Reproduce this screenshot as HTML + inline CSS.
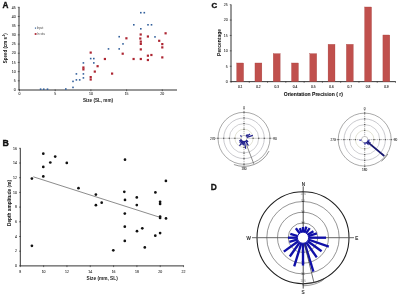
<!DOCTYPE html>
<html><head><meta charset="utf-8"><style>
html,body{margin:0;padding:0;background:#fff;}
svg{display:block;font-family:"Liberation Sans",sans-serif;will-change:transform;filter:blur(0.3px);}
</style></head><body>
<svg width="400" height="297" viewBox="0 0 400 297" font-family="Liberation Sans, sans-serif">
<rect width="400" height="297" fill="#fff"/>
<text x="5.40" y="7.70" font-size="8.2" text-anchor="middle" font-weight="bold" fill="#111" stroke="#111" stroke-width="0.35">A</text>
<line x1="19.00" y1="7.29" x2="19.00" y2="90.00" stroke="#333" stroke-width="1.0" />
<line x1="19.00" y1="90.00" x2="177.00" y2="90.00" stroke="#333" stroke-width="1.0" />
<line x1="17.80" y1="90.00" x2="19.60" y2="90.00" stroke="#333" stroke-width="0.7" />
<text x="15.60" y="91.25" font-size="3.5" text-anchor="end" font-weight="normal" fill="#222" stroke="#222" stroke-width="0.05">0</text>
<line x1="17.80" y1="80.81" x2="19.60" y2="80.81" stroke="#333" stroke-width="0.7" />
<text x="15.60" y="82.06" font-size="3.5" text-anchor="end" font-weight="normal" fill="#222" stroke="#222" stroke-width="0.05">5</text>
<line x1="17.80" y1="71.62" x2="19.60" y2="71.62" stroke="#333" stroke-width="0.7" />
<text x="15.60" y="72.87" font-size="3.5" text-anchor="end" font-weight="normal" fill="#222" stroke="#222" stroke-width="0.05">10</text>
<line x1="17.80" y1="62.43" x2="19.60" y2="62.43" stroke="#333" stroke-width="0.7" />
<text x="15.60" y="63.68" font-size="3.5" text-anchor="end" font-weight="normal" fill="#222" stroke="#222" stroke-width="0.05">15</text>
<line x1="17.80" y1="53.24" x2="19.60" y2="53.24" stroke="#333" stroke-width="0.7" />
<text x="15.60" y="54.49" font-size="3.5" text-anchor="end" font-weight="normal" fill="#222" stroke="#222" stroke-width="0.05">20</text>
<line x1="17.80" y1="44.05" x2="19.60" y2="44.05" stroke="#333" stroke-width="0.7" />
<text x="15.60" y="45.30" font-size="3.5" text-anchor="end" font-weight="normal" fill="#222" stroke="#222" stroke-width="0.05">25</text>
<line x1="17.80" y1="34.86" x2="19.60" y2="34.86" stroke="#333" stroke-width="0.7" />
<text x="15.60" y="36.11" font-size="3.5" text-anchor="end" font-weight="normal" fill="#222" stroke="#222" stroke-width="0.05">30</text>
<line x1="17.80" y1="25.67" x2="19.60" y2="25.67" stroke="#333" stroke-width="0.7" />
<text x="15.60" y="26.92" font-size="3.5" text-anchor="end" font-weight="normal" fill="#222" stroke="#222" stroke-width="0.05">35</text>
<line x1="17.80" y1="16.48" x2="19.60" y2="16.48" stroke="#333" stroke-width="0.7" />
<text x="15.60" y="17.73" font-size="3.5" text-anchor="end" font-weight="normal" fill="#222" stroke="#222" stroke-width="0.05">40</text>
<line x1="17.80" y1="7.29" x2="19.60" y2="7.29" stroke="#333" stroke-width="0.7" />
<text x="15.60" y="8.54" font-size="3.5" text-anchor="end" font-weight="normal" fill="#222" stroke="#222" stroke-width="0.05">45</text>
<line x1="19.50" y1="89.40" x2="19.50" y2="91.20" stroke="#333" stroke-width="0.7" />
<text x="19.50" y="95.10" font-size="3.5" text-anchor="middle" font-weight="normal" fill="#222" stroke="#222" stroke-width="0.05">0</text>
<line x1="55.20" y1="89.40" x2="55.20" y2="91.20" stroke="#333" stroke-width="0.7" />
<text x="55.20" y="95.10" font-size="3.5" text-anchor="middle" font-weight="normal" fill="#222" stroke="#222" stroke-width="0.05">5</text>
<line x1="90.90" y1="89.40" x2="90.90" y2="91.20" stroke="#333" stroke-width="0.7" />
<text x="90.90" y="95.10" font-size="3.5" text-anchor="middle" font-weight="normal" fill="#222" stroke="#222" stroke-width="0.05">10</text>
<line x1="126.60" y1="89.40" x2="126.60" y2="91.20" stroke="#333" stroke-width="0.7" />
<text x="126.60" y="95.10" font-size="3.5" text-anchor="middle" font-weight="normal" fill="#222" stroke="#222" stroke-width="0.05">15</text>
<line x1="162.30" y1="89.40" x2="162.30" y2="91.20" stroke="#333" stroke-width="0.7" />
<text x="162.30" y="95.10" font-size="3.5" text-anchor="middle" font-weight="normal" fill="#222" stroke="#222" stroke-width="0.05">20</text>
<text x="98.00" y="102.20" font-size="4.6" text-anchor="middle" font-weight="bold" fill="#1a1a1a" >Size (SL, mm)</text>
<text transform="translate(6.6,48.2) rotate(-90)" font-size="4.45" text-anchor="middle" font-weight="bold" fill="#111">Speed (cm s<tspan font-size="2.6" dy="-1.4">-1</tspan><tspan dy="1.4">)</tspan></text>
<rect x="34.9" y="27.5" width="1.2" height="1.2" fill="#33609c"/>
<text x="36.80" y="29.30" font-size="2.9" text-anchor="start" font-weight="normal" fill="#444" >Input</text>
<rect x="34.7" y="33.1" width="1.8" height="1.8" fill="#ad2632"/>
<text x="37.30" y="35.10" font-size="2.9" text-anchor="start" font-weight="normal" fill="#444" >In situ</text>
<rect x="140.00" y="11.90" width="1.6" height="1.6" fill="#33609c"/>
<rect x="143.50" y="11.90" width="1.6" height="1.6" fill="#33609c"/>
<rect x="133.00" y="24.00" width="1.6" height="1.6" fill="#33609c"/>
<rect x="147.20" y="24.00" width="1.6" height="1.6" fill="#33609c"/>
<rect x="150.70" y="24.00" width="1.6" height="1.6" fill="#33609c"/>
<rect x="140.00" y="28.00" width="1.6" height="1.6" fill="#33609c"/>
<rect x="154.20" y="36.10" width="1.6" height="1.6" fill="#33609c"/>
<rect x="118.40" y="35.90" width="1.6" height="1.6" fill="#33609c"/>
<rect x="122.20" y="43.10" width="1.6" height="1.6" fill="#33609c"/>
<rect x="107.70" y="48.10" width="1.6" height="1.6" fill="#33609c"/>
<rect x="118.40" y="48.10" width="1.6" height="1.6" fill="#33609c"/>
<rect x="89.90" y="57.80" width="1.6" height="1.6" fill="#33609c"/>
<rect x="93.00" y="57.80" width="1.6" height="1.6" fill="#33609c"/>
<rect x="93.00" y="62.10" width="1.6" height="1.6" fill="#33609c"/>
<rect x="82.60" y="62.10" width="1.6" height="1.6" fill="#33609c"/>
<rect x="75.60" y="73.10" width="1.6" height="1.6" fill="#33609c"/>
<rect x="82.60" y="73.10" width="1.6" height="1.6" fill="#33609c"/>
<rect x="75.60" y="79.10" width="1.6" height="1.6" fill="#33609c"/>
<rect x="78.90" y="79.10" width="1.6" height="1.6" fill="#33609c"/>
<rect x="82.60" y="77.10" width="1.6" height="1.6" fill="#33609c"/>
<rect x="72.20" y="80.60" width="1.6" height="1.6" fill="#33609c"/>
<rect x="72.20" y="86.60" width="1.6" height="1.6" fill="#33609c"/>
<rect x="65.00" y="88.20" width="1.6" height="1.6" fill="#33609c"/>
<rect x="39.80" y="88.40" width="1.6" height="1.6" fill="#33609c"/>
<rect x="42.95" y="88.40" width="1.6" height="1.6" fill="#33609c"/>
<rect x="46.70" y="88.40" width="1.6" height="1.6" fill="#33609c"/>
<rect x="89.60" y="51.50" width="2.2" height="2.2" fill="#ad2632"/>
<rect x="82.30" y="66.40" width="2.2" height="2.2" fill="#ad2632"/>
<rect x="82.30" y="68.30" width="2.2" height="2.2" fill="#ad2632"/>
<rect x="96.50" y="65.10" width="2.2" height="2.2" fill="#ad2632"/>
<rect x="93.70" y="70.50" width="2.2" height="2.2" fill="#ad2632"/>
<rect x="89.60" y="76.00" width="2.2" height="2.2" fill="#ad2632"/>
<rect x="89.60" y="78.40" width="2.2" height="2.2" fill="#ad2632"/>
<rect x="103.80" y="57.90" width="2.2" height="2.2" fill="#ad2632"/>
<rect x="111.00" y="72.50" width="2.2" height="2.2" fill="#ad2632"/>
<rect x="121.60" y="52.60" width="2.2" height="2.2" fill="#ad2632"/>
<rect x="125.30" y="37.20" width="2.2" height="2.2" fill="#ad2632"/>
<rect x="132.50" y="57.90" width="2.2" height="2.2" fill="#ad2632"/>
<rect x="139.60" y="33.40" width="2.2" height="2.2" fill="#ad2632"/>
<rect x="139.20" y="37.40" width="2.2" height="2.2" fill="#ad2632"/>
<rect x="139.70" y="40.50" width="2.2" height="2.2" fill="#ad2632"/>
<rect x="139.70" y="42.80" width="2.2" height="2.2" fill="#ad2632"/>
<rect x="139.70" y="48.30" width="2.2" height="2.2" fill="#ad2632"/>
<rect x="139.70" y="57.90" width="2.2" height="2.2" fill="#ad2632"/>
<rect x="146.80" y="35.40" width="2.2" height="2.2" fill="#ad2632"/>
<rect x="146.80" y="54.60" width="2.2" height="2.2" fill="#ad2632"/>
<rect x="150.30" y="53.90" width="2.2" height="2.2" fill="#ad2632"/>
<rect x="146.80" y="58.90" width="2.2" height="2.2" fill="#ad2632"/>
<rect x="158.10" y="39.70" width="2.2" height="2.2" fill="#ad2632"/>
<rect x="161.20" y="43.00" width="2.2" height="2.2" fill="#ad2632"/>
<rect x="161.20" y="46.30" width="2.2" height="2.2" fill="#ad2632"/>
<rect x="161.20" y="56.30" width="2.2" height="2.2" fill="#ad2632"/>
<rect x="164.50" y="32.20" width="2.2" height="2.2" fill="#ad2632"/>
<text x="5.60" y="145.90" font-size="8.8" text-anchor="middle" font-weight="bold" fill="#111" stroke="#111" stroke-width="0.35">B</text>
<line x1="20.30" y1="148.30" x2="20.30" y2="265.90" stroke="#333" stroke-width="1.0" />
<line x1="20.30" y1="265.90" x2="183.70" y2="265.90" stroke="#333" stroke-width="1.0" />
<line x1="19.10" y1="265.90" x2="20.90" y2="265.90" stroke="#333" stroke-width="0.7" />
<text x="17.00" y="267.15" font-size="3.5" text-anchor="end" font-weight="normal" fill="#222" stroke="#222" stroke-width="0.05">0</text>
<line x1="19.10" y1="251.20" x2="20.90" y2="251.20" stroke="#333" stroke-width="0.7" />
<text x="17.00" y="252.45" font-size="3.5" text-anchor="end" font-weight="normal" fill="#222" stroke="#222" stroke-width="0.05">2</text>
<line x1="19.10" y1="236.50" x2="20.90" y2="236.50" stroke="#333" stroke-width="0.7" />
<text x="17.00" y="237.75" font-size="3.5" text-anchor="end" font-weight="normal" fill="#222" stroke="#222" stroke-width="0.05">4</text>
<line x1="19.10" y1="221.80" x2="20.90" y2="221.80" stroke="#333" stroke-width="0.7" />
<text x="17.00" y="223.05" font-size="3.5" text-anchor="end" font-weight="normal" fill="#222" stroke="#222" stroke-width="0.05">6</text>
<line x1="19.10" y1="207.10" x2="20.90" y2="207.10" stroke="#333" stroke-width="0.7" />
<text x="17.00" y="208.35" font-size="3.5" text-anchor="end" font-weight="normal" fill="#222" stroke="#222" stroke-width="0.05">8</text>
<line x1="19.10" y1="192.40" x2="20.90" y2="192.40" stroke="#333" stroke-width="0.7" />
<text x="17.00" y="193.65" font-size="3.5" text-anchor="end" font-weight="normal" fill="#222" stroke="#222" stroke-width="0.05">10</text>
<line x1="19.10" y1="177.70" x2="20.90" y2="177.70" stroke="#333" stroke-width="0.7" />
<text x="17.00" y="178.95" font-size="3.5" text-anchor="end" font-weight="normal" fill="#222" stroke="#222" stroke-width="0.05">12</text>
<line x1="19.10" y1="163.00" x2="20.90" y2="163.00" stroke="#333" stroke-width="0.7" />
<text x="17.00" y="164.25" font-size="3.5" text-anchor="end" font-weight="normal" fill="#222" stroke="#222" stroke-width="0.05">14</text>
<line x1="19.10" y1="148.30" x2="20.90" y2="148.30" stroke="#333" stroke-width="0.7" />
<text x="17.00" y="149.55" font-size="3.5" text-anchor="end" font-weight="normal" fill="#222" stroke="#222" stroke-width="0.05">16</text>
<line x1="20.30" y1="265.30" x2="20.30" y2="267.10" stroke="#333" stroke-width="0.7" />
<text x="20.30" y="273.10" font-size="3.5" text-anchor="middle" font-weight="normal" fill="#222" stroke="#222" stroke-width="0.05">8</text>
<line x1="43.62" y1="265.30" x2="43.62" y2="267.10" stroke="#333" stroke-width="0.7" />
<text x="43.62" y="273.10" font-size="3.5" text-anchor="middle" font-weight="normal" fill="#222" stroke="#222" stroke-width="0.05">10</text>
<line x1="66.94" y1="265.30" x2="66.94" y2="267.10" stroke="#333" stroke-width="0.7" />
<text x="66.94" y="273.10" font-size="3.5" text-anchor="middle" font-weight="normal" fill="#222" stroke="#222" stroke-width="0.05">12</text>
<line x1="90.26" y1="265.30" x2="90.26" y2="267.10" stroke="#333" stroke-width="0.7" />
<text x="90.26" y="273.10" font-size="3.5" text-anchor="middle" font-weight="normal" fill="#222" stroke="#222" stroke-width="0.05">14</text>
<line x1="113.58" y1="265.30" x2="113.58" y2="267.10" stroke="#333" stroke-width="0.7" />
<text x="113.58" y="273.10" font-size="3.5" text-anchor="middle" font-weight="normal" fill="#222" stroke="#222" stroke-width="0.05">16</text>
<line x1="136.90" y1="265.30" x2="136.90" y2="267.10" stroke="#333" stroke-width="0.7" />
<text x="136.90" y="273.10" font-size="3.5" text-anchor="middle" font-weight="normal" fill="#222" stroke="#222" stroke-width="0.05">18</text>
<line x1="160.22" y1="265.30" x2="160.22" y2="267.10" stroke="#333" stroke-width="0.7" />
<text x="160.22" y="273.10" font-size="3.5" text-anchor="middle" font-weight="normal" fill="#222" stroke="#222" stroke-width="0.05">20</text>
<line x1="183.54" y1="265.30" x2="183.54" y2="267.10" stroke="#333" stroke-width="0.7" />
<text x="183.54" y="273.10" font-size="3.5" text-anchor="middle" font-weight="normal" fill="#222" stroke="#222" stroke-width="0.05">22</text>
<text x="102.20" y="279.80" font-size="4.75" text-anchor="middle" font-weight="bold" fill="#1a1a1a" >Size (mm, SL)</text>
<text transform="translate(10.5,203.0) rotate(-90)" font-size="4.75" text-anchor="middle" font-weight="bold" fill="#111">Depth amplitude (m)</text>
<line x1="33.30" y1="176.80" x2="160.20" y2="217.40" stroke="#666" stroke-width="0.75" />
<circle cx="43.30" cy="153.70" r="1.35" fill="#111"/>
<circle cx="55.20" cy="156.60" r="1.35" fill="#111"/>
<circle cx="50.30" cy="162.50" r="1.35" fill="#111"/>
<circle cx="66.80" cy="162.90" r="1.35" fill="#111"/>
<circle cx="43.30" cy="166.90" r="1.35" fill="#111"/>
<circle cx="43.30" cy="176.40" r="1.35" fill="#111"/>
<circle cx="31.90" cy="178.60" r="1.35" fill="#111"/>
<circle cx="78.50" cy="188.20" r="1.35" fill="#111"/>
<circle cx="95.90" cy="194.60" r="1.35" fill="#111"/>
<circle cx="101.70" cy="202.70" r="1.35" fill="#111"/>
<circle cx="95.90" cy="205.20" r="1.35" fill="#111"/>
<circle cx="31.90" cy="245.80" r="1.35" fill="#111"/>
<circle cx="125.00" cy="159.70" r="1.35" fill="#111"/>
<circle cx="165.90" cy="180.90" r="1.35" fill="#111"/>
<circle cx="124.30" cy="191.80" r="1.35" fill="#111"/>
<circle cx="155.40" cy="192.40" r="1.35" fill="#111"/>
<circle cx="125.00" cy="199.90" r="1.35" fill="#111"/>
<circle cx="136.80" cy="197.40" r="1.35" fill="#111"/>
<circle cx="136.80" cy="205.10" r="1.35" fill="#111"/>
<circle cx="160.10" cy="201.80" r="1.35" fill="#111"/>
<circle cx="160.10" cy="203.90" r="1.35" fill="#111"/>
<circle cx="124.80" cy="213.60" r="1.35" fill="#111"/>
<circle cx="160.10" cy="216.60" r="1.35" fill="#111"/>
<circle cx="160.10" cy="218.00" r="1.35" fill="#111"/>
<circle cx="166.00" cy="218.40" r="1.35" fill="#111"/>
<circle cx="124.80" cy="226.70" r="1.35" fill="#111"/>
<circle cx="137.00" cy="231.20" r="1.35" fill="#111"/>
<circle cx="142.30" cy="228.30" r="1.35" fill="#111"/>
<circle cx="160.10" cy="233.10" r="1.35" fill="#111"/>
<circle cx="155.30" cy="235.70" r="1.35" fill="#111"/>
<circle cx="124.80" cy="240.90" r="1.35" fill="#111"/>
<circle cx="113.30" cy="250.30" r="1.35" fill="#111"/>
<circle cx="144.80" cy="247.40" r="1.35" fill="#111"/>
<text x="214.20" y="7.60" font-size="7.8" text-anchor="middle" font-weight="bold" fill="#111" stroke="#111" stroke-width="0.35">C</text>
<line x1="231.00" y1="5.00" x2="231.00" y2="81.65" stroke="#333" stroke-width="1.0" />
<line x1="231.00" y1="81.65" x2="395.50" y2="81.65" stroke="#333" stroke-width="1.0" />
<line x1="229.80" y1="81.65" x2="231.50" y2="81.65" stroke="#333" stroke-width="0.7" />
<text x="227.60" y="82.90" font-size="3.5" text-anchor="end" font-weight="normal" fill="#222" stroke="#222" stroke-width="0.05">0</text>
<line x1="229.80" y1="66.25" x2="231.50" y2="66.25" stroke="#333" stroke-width="0.7" />
<text x="227.60" y="67.50" font-size="3.5" text-anchor="end" font-weight="normal" fill="#222" stroke="#222" stroke-width="0.05">5</text>
<line x1="229.80" y1="50.85" x2="231.50" y2="50.85" stroke="#333" stroke-width="0.7" />
<text x="227.60" y="52.10" font-size="3.5" text-anchor="end" font-weight="normal" fill="#222" stroke="#222" stroke-width="0.05">10</text>
<line x1="229.80" y1="35.45" x2="231.50" y2="35.45" stroke="#333" stroke-width="0.7" />
<text x="227.60" y="36.70" font-size="3.5" text-anchor="end" font-weight="normal" fill="#222" stroke="#222" stroke-width="0.05">15</text>
<line x1="229.80" y1="20.05" x2="231.50" y2="20.05" stroke="#333" stroke-width="0.7" />
<text x="227.60" y="21.30" font-size="3.5" text-anchor="end" font-weight="normal" fill="#222" stroke="#222" stroke-width="0.05">20</text>
<line x1="229.80" y1="4.65" x2="231.50" y2="4.65" stroke="#333" stroke-width="0.7" />
<text x="227.60" y="5.90" font-size="3.5" text-anchor="end" font-weight="normal" fill="#222" stroke="#222" stroke-width="0.05">25</text>
<line x1="231.00" y1="81.15" x2="231.00" y2="82.75" stroke="#333" stroke-width="0.7" />
<line x1="249.28" y1="81.15" x2="249.28" y2="82.75" stroke="#333" stroke-width="0.7" />
<line x1="267.56" y1="81.15" x2="267.56" y2="82.75" stroke="#333" stroke-width="0.7" />
<line x1="285.83" y1="81.15" x2="285.83" y2="82.75" stroke="#333" stroke-width="0.7" />
<line x1="304.11" y1="81.15" x2="304.11" y2="82.75" stroke="#333" stroke-width="0.7" />
<line x1="322.39" y1="81.15" x2="322.39" y2="82.75" stroke="#333" stroke-width="0.7" />
<line x1="340.67" y1="81.15" x2="340.67" y2="82.75" stroke="#333" stroke-width="0.7" />
<line x1="358.94" y1="81.15" x2="358.94" y2="82.75" stroke="#333" stroke-width="0.7" />
<line x1="377.22" y1="81.15" x2="377.22" y2="82.75" stroke="#333" stroke-width="0.7" />
<line x1="395.50" y1="81.15" x2="395.50" y2="82.75" stroke="#333" stroke-width="0.7" />
<rect x="236.69" y="62.99" width="6.9" height="18.66" fill="#c0504d" stroke="#a33a37" stroke-width="0.3"/>
<text x="240.14" y="88.40" font-size="3.2" text-anchor="middle" font-weight="normal" fill="#222" stroke="#222" stroke-width="0.1">0.1</text>
<rect x="254.97" y="62.99" width="6.9" height="18.66" fill="#c0504d" stroke="#a33a37" stroke-width="0.3"/>
<text x="258.42" y="88.40" font-size="3.2" text-anchor="middle" font-weight="normal" fill="#222" stroke="#222" stroke-width="0.1">0.2</text>
<rect x="273.24" y="53.65" width="6.9" height="28.00" fill="#c0504d" stroke="#a33a37" stroke-width="0.3"/>
<text x="276.69" y="88.40" font-size="3.2" text-anchor="middle" font-weight="normal" fill="#222" stroke="#222" stroke-width="0.1">0.3</text>
<rect x="291.52" y="62.99" width="6.9" height="18.66" fill="#c0504d" stroke="#a33a37" stroke-width="0.3"/>
<text x="294.97" y="88.40" font-size="3.2" text-anchor="middle" font-weight="normal" fill="#222" stroke="#222" stroke-width="0.1">0.4</text>
<rect x="309.80" y="53.65" width="6.9" height="28.00" fill="#c0504d" stroke="#a33a37" stroke-width="0.3"/>
<text x="313.25" y="88.40" font-size="3.2" text-anchor="middle" font-weight="normal" fill="#222" stroke="#222" stroke-width="0.1">0.5</text>
<rect x="328.08" y="44.32" width="6.9" height="37.33" fill="#c0504d" stroke="#a33a37" stroke-width="0.3"/>
<text x="331.53" y="88.40" font-size="3.2" text-anchor="middle" font-weight="normal" fill="#222" stroke="#222" stroke-width="0.1">0.6</text>
<rect x="346.36" y="44.32" width="6.9" height="37.33" fill="#c0504d" stroke="#a33a37" stroke-width="0.3"/>
<text x="349.81" y="88.40" font-size="3.2" text-anchor="middle" font-weight="normal" fill="#222" stroke="#222" stroke-width="0.1">0.7</text>
<rect x="364.63" y="6.99" width="6.9" height="74.66" fill="#c0504d" stroke="#a33a37" stroke-width="0.3"/>
<text x="368.08" y="88.40" font-size="3.2" text-anchor="middle" font-weight="normal" fill="#222" stroke="#222" stroke-width="0.1">0.8</text>
<rect x="382.91" y="34.99" width="6.9" height="46.66" fill="#c0504d" stroke="#a33a37" stroke-width="0.3"/>
<text x="386.36" y="88.40" font-size="3.2" text-anchor="middle" font-weight="normal" fill="#222" stroke="#222" stroke-width="0.1">0.9</text>
<text x="313.30" y="95.50" font-size="5.05" text-anchor="middle" font-weight="bold" fill="#111" stroke="#111" stroke-width="0.08">Orientation Precision ( r)</text>
<text transform="translate(220.6,42.4) rotate(-90)" font-size="5.0" text-anchor="middle" font-weight="bold" fill="#111">Percentage</text>
<circle cx="244.0" cy="138.3" r="26.0" fill="none" stroke="#6e6e6e" stroke-width="0.6"/>
<circle cx="244.0" cy="138.3" r="20.3" fill="none" stroke="#a4a4ac" stroke-width="0.6"/>
<circle cx="244.0" cy="138.3" r="14.7" fill="none" stroke="#b0b0b6" stroke-width="0.6"/>
<circle cx="244.0" cy="138.3" r="9.1" fill="none" stroke="#cfcfb8" stroke-width="0.6"/>
<line x1="214.50" y1="138.30" x2="273.50" y2="138.30" stroke="#666" stroke-width="0.6" stroke-dasharray="1.1 0.9"/>
<line x1="244.00" y1="108.80" x2="244.00" y2="167.80" stroke="#666" stroke-width="0.6" stroke-dasharray="1.1 0.9"/>
<rect x="217.40" y="137.70" width="1.2" height="1.2" fill="#555"/>
<rect x="243.40" y="111.70" width="1.2" height="1.2" fill="#555"/>
<rect x="269.40" y="137.70" width="1.2" height="1.2" fill="#555"/>
<rect x="243.40" y="163.70" width="1.2" height="1.2" fill="#555"/>
<rect x="223.10" y="137.70" width="1.2" height="1.2" fill="#555"/>
<rect x="243.40" y="117.40" width="1.2" height="1.2" fill="#555"/>
<rect x="263.70" y="137.70" width="1.2" height="1.2" fill="#555"/>
<rect x="243.40" y="158.00" width="1.2" height="1.2" fill="#555"/>
<rect x="228.70" y="137.70" width="1.2" height="1.2" fill="#555"/>
<rect x="243.40" y="123.00" width="1.2" height="1.2" fill="#555"/>
<rect x="258.10" y="137.70" width="1.2" height="1.2" fill="#555"/>
<rect x="243.40" y="152.40" width="1.2" height="1.2" fill="#555"/>
<rect x="234.30" y="137.70" width="1.2" height="1.2" fill="#555"/>
<rect x="243.40" y="128.60" width="1.2" height="1.2" fill="#555"/>
<rect x="252.50" y="137.70" width="1.2" height="1.2" fill="#555"/>
<rect x="243.40" y="146.80" width="1.2" height="1.2" fill="#555"/>
<circle cx="244.0" cy="138.3" r="2.9" fill="#fff" stroke="#8a8a8a" stroke-width="0.5"/>
<circle cx="364.7" cy="139.6" r="26.5" fill="none" stroke="#6e6e6e" stroke-width="0.6"/>
<circle cx="364.7" cy="139.6" r="20.7" fill="none" stroke="#a4a4ac" stroke-width="0.6"/>
<circle cx="364.7" cy="139.6" r="15.0" fill="none" stroke="#b0b0b6" stroke-width="0.6"/>
<circle cx="364.7" cy="139.6" r="9.3" fill="none" stroke="#cfcfb8" stroke-width="0.6"/>
<line x1="335.20" y1="139.60" x2="394.20" y2="139.60" stroke="#666" stroke-width="0.6" stroke-dasharray="1.1 0.9"/>
<line x1="364.70" y1="110.10" x2="364.70" y2="169.10" stroke="#666" stroke-width="0.6" stroke-dasharray="1.1 0.9"/>
<rect x="337.60" y="139.00" width="1.2" height="1.2" fill="#555"/>
<rect x="364.10" y="112.50" width="1.2" height="1.2" fill="#555"/>
<rect x="390.60" y="139.00" width="1.2" height="1.2" fill="#555"/>
<rect x="364.10" y="165.50" width="1.2" height="1.2" fill="#555"/>
<rect x="343.40" y="139.00" width="1.2" height="1.2" fill="#555"/>
<rect x="364.10" y="118.30" width="1.2" height="1.2" fill="#555"/>
<rect x="384.80" y="139.00" width="1.2" height="1.2" fill="#555"/>
<rect x="364.10" y="159.70" width="1.2" height="1.2" fill="#555"/>
<rect x="349.10" y="139.00" width="1.2" height="1.2" fill="#555"/>
<rect x="364.10" y="124.00" width="1.2" height="1.2" fill="#555"/>
<rect x="379.10" y="139.00" width="1.2" height="1.2" fill="#555"/>
<rect x="364.10" y="154.00" width="1.2" height="1.2" fill="#555"/>
<rect x="354.80" y="139.00" width="1.2" height="1.2" fill="#555"/>
<rect x="364.10" y="129.70" width="1.2" height="1.2" fill="#555"/>
<rect x="373.40" y="139.00" width="1.2" height="1.2" fill="#555"/>
<rect x="364.10" y="148.30" width="1.2" height="1.2" fill="#555"/>
<circle cx="364.7" cy="139.6" r="3.2" fill="#fff" stroke="#8a8a8a" stroke-width="0.5"/>
<text x="244.00" y="108.90" font-size="3.1" text-anchor="middle" font-weight="normal" fill="#333" stroke="#333" stroke-width="0.08">0</text>
<text x="244.00" y="170.00" font-size="3.1" text-anchor="middle" font-weight="normal" fill="#333" stroke="#333" stroke-width="0.08">180</text>
<text x="212.60" y="139.60" font-size="3.1" text-anchor="middle" font-weight="normal" fill="#333" stroke="#333" stroke-width="0.08">270</text>
<text x="275.00" y="139.60" font-size="3.1" text-anchor="middle" font-weight="normal" fill="#333" stroke="#333" stroke-width="0.08">90</text>
<text x="364.70" y="109.80" font-size="3.1" text-anchor="middle" font-weight="normal" fill="#333" stroke="#333" stroke-width="0.08">0</text>
<text x="364.70" y="170.60" font-size="3.1" text-anchor="middle" font-weight="normal" fill="#333" stroke="#333" stroke-width="0.08">180</text>
<text x="333.10" y="140.80" font-size="3.1" text-anchor="middle" font-weight="normal" fill="#333" stroke="#333" stroke-width="0.08">270</text>
<text x="395.50" y="140.80" font-size="3.1" text-anchor="middle" font-weight="normal" fill="#333" stroke="#333" stroke-width="0.08">90</text>
<line x1="246.01" y1="136.07" x2="247.48" y2="134.44" stroke="#1c1c8c" stroke-width="1.2"/>
<line x1="246.46" y1="136.58" x2="250.06" y2="134.06" stroke="#1c1c8c" stroke-width="1.2"/>
<line x1="246.85" y1="137.37" x2="252.84" y2="135.43" stroke="#1c1c8c" stroke-width="1.2"/>
<line x1="246.23" y1="140.31" x2="248.16" y2="142.05" stroke="#1c1c8c" stroke-width="1.2"/>
<line x1="245.55" y1="140.87" x2="248.38" y2="145.59" stroke="#1c1c8c" stroke-width="1.2"/>
<line x1="244.47" y1="141.26" x2="245.66" y2="148.77" stroke="#1c1c8c" stroke-width="1.2"/>
<line x1="243.84" y1="141.30" x2="243.63" y2="145.29" stroke="#1c1c8c" stroke-width="1.2"/>
<line x1="243.07" y1="141.15" x2="241.84" y2="144.96" stroke="#1c1c8c" stroke-width="1.2"/>
<line x1="242.50" y1="140.90" x2="239.55" y2="146.01" stroke="#1c1c8c" stroke-width="1.2"/>
<line x1="241.88" y1="140.42" x2="239.62" y2="142.68" stroke="#1c1c8c" stroke-width="1.2"/>
<line x1="241.38" y1="139.75" x2="239.28" y2="140.92" stroke="#1c1c8c" stroke-width="1.2"/>
<line x1="241.64" y1="136.45" x2="240.30" y2="135.41" stroke="#1c1c8c" stroke-width="1.2"/>
<path d="M247.09 139.94A3.5 3.5 0 0 1 240.67 139.38" fill="none" stroke="#1c1c8c" stroke-width="1.1"/>
<line x1="246.15" y1="143.90" x2="253.82" y2="163.88" stroke="#444" stroke-width="0.6"/>
<path d="M269.04 151.06A28.1 28.1 0 0 1 233.93 164.53" fill="none" stroke="#6a6a6a" stroke-width="0.7"/>
<line x1="367.85" y1="140.16" x2="369.53" y2="140.45" stroke="#1a1aa8" stroke-width="1.0"/>
<line x1="366.30" y1="142.37" x2="367.35" y2="144.19" stroke="#1a1aa8" stroke-width="1.0"/>
<line x1="364.98" y1="142.79" x2="365.14" y2="144.58" stroke="#1a1aa8" stroke-width="1.0"/>
<line x1="361.53" y1="140.05" x2="359.45" y2="140.34" stroke="#1a1aa8" stroke-width="1.0"/>
<path d="M367.89 140.76A3.4 3.4 0 0 1 363.54 142.79" fill="none" stroke="#1a1a8c" stroke-width="0.8"/>
<line x1="367.46" y1="141.91" x2="384.31" y2="156.06" stroke="#16166e" stroke-width="1.8"/>
<line x1="367.61" y1="141.15" x2="370.70" y2="142.79" stroke="#1a1a8c" stroke-width="1.0"/>
<line x1="366.59" y1="142.30" x2="368.60" y2="145.17" stroke="#1a1a8c" stroke-width="1.0"/>
<path d="M387.85 154.07A27.3 27.3 0 0 1 381.51 161.11" fill="none" stroke="#555" stroke-width="0.75"/>
<text x="213.90" y="189.70" font-size="8.4" text-anchor="middle" font-weight="bold" fill="#111" stroke="#111" stroke-width="0.3">D</text>
<circle cx="303.0" cy="237.7" r="46.0" fill="none" stroke="#1e1e1e" stroke-width="1.05"/>
<circle cx="303.0" cy="237.7" r="36.2" fill="none" stroke="#5c5c5c" stroke-width="0.65"/>
<circle cx="303.0" cy="237.7" r="25.5" fill="none" stroke="#5c5c5c" stroke-width="0.65"/>
<circle cx="303.0" cy="237.7" r="14.8" fill="none" stroke="#5c5c5c" stroke-width="0.65"/>
<line x1="252.00" y1="237.70" x2="354.00" y2="237.70" stroke="#555" stroke-width="0.9" />
<line x1="303.20" y1="186.30" x2="303.20" y2="288.60" stroke="#3a3a3a" stroke-width="0.9" />
<text x="303.40" y="185.60" font-size="4.6" text-anchor="middle" font-weight="normal" fill="#222" stroke="#222" stroke-width="0.15">N</text>
<text x="303.10" y="293.90" font-size="4.6" text-anchor="middle" font-weight="normal" fill="#222" stroke="#222" stroke-width="0.15">S</text>
<text x="248.60" y="240.30" font-size="4.6" text-anchor="middle" font-weight="normal" fill="#222" stroke="#222" stroke-width="0.15">W</text>
<text x="356.90" y="240.30" font-size="4.6" text-anchor="middle" font-weight="normal" fill="#222" stroke="#222" stroke-width="0.15">E</text>
<text x="303.20" y="195.20" font-size="2.6" text-anchor="middle" font-weight="normal" fill="#777" >10%</text>
<rect x="302.00" y="191.20" width="2.0" height="1.0" fill="#444"/>
<text x="303.20" y="282.00" font-size="2.6" text-anchor="middle" font-weight="normal" fill="#777" >10%</text>
<rect x="302.00" y="283.20" width="2.0" height="1.0" fill="#444"/>
<text x="303.20" y="202.40" font-size="2.6" text-anchor="middle" font-weight="normal" fill="#777" >8%</text>
<rect x="302.00" y="201.00" width="2.0" height="1.0" fill="#444"/>
<text x="303.20" y="274.80" font-size="2.6" text-anchor="middle" font-weight="normal" fill="#777" >8%</text>
<rect x="302.00" y="273.40" width="2.0" height="1.0" fill="#444"/>
<text x="303.20" y="213.10" font-size="2.6" text-anchor="middle" font-weight="normal" fill="#777" >5%</text>
<rect x="302.00" y="211.70" width="2.0" height="1.0" fill="#444"/>
<text x="303.20" y="264.10" font-size="2.6" text-anchor="middle" font-weight="normal" fill="#777" >5%</text>
<rect x="302.00" y="262.70" width="2.0" height="1.0" fill="#444"/>
<text x="303.20" y="223.80" font-size="2.6" text-anchor="middle" font-weight="normal" fill="#777" >3%</text>
<rect x="302.00" y="222.40" width="2.0" height="1.0" fill="#444"/>
<text x="303.20" y="253.40" font-size="2.6" text-anchor="middle" font-weight="normal" fill="#777" >3%</text>
<rect x="302.00" y="252.00" width="2.0" height="1.0" fill="#444"/>
<line x1="297.50" y1="237.70" x2="288.00" y2="237.70" stroke="#1010a8" stroke-width="2.35"/>
<line x1="297.74" y1="236.09" x2="290.28" y2="233.81" stroke="#1010a8" stroke-width="2.35"/>
<line x1="299.69" y1="233.31" x2="295.84" y2="228.20" stroke="#1010a8" stroke-width="2.35"/>
<line x1="301.30" y1="232.47" x2="299.91" y2="228.19" stroke="#1010a8" stroke-width="2.35"/>
<line x1="303.00" y1="232.20" x2="303.00" y2="227.00" stroke="#1010a8" stroke-width="2.35"/>
<line x1="304.61" y1="232.44" x2="306.36" y2="226.70" stroke="#1010a8" stroke-width="2.35"/>
<line x1="306.15" y1="233.19" x2="309.71" y2="228.12" stroke="#1010a8" stroke-width="2.35"/>
<line x1="307.66" y1="234.79" x2="313.43" y2="231.18" stroke="#1010a8" stroke-width="2.35"/>
<line x1="308.26" y1="236.09" x2="316.87" y2="233.46" stroke="#1010a8" stroke-width="2.35"/>
<line x1="308.50" y1="237.70" x2="326.00" y2="237.70" stroke="#1010a8" stroke-width="2.35"/>
<line x1="308.20" y1="239.49" x2="328.81" y2="246.59" stroke="#1010a8" stroke-width="2.35"/>
<line x1="307.45" y1="240.93" x2="321.61" y2="251.22" stroke="#1010a8" stroke-width="2.35"/>
<line x1="306.15" y1="242.21" x2="316.77" y2="257.36" stroke="#1010a8" stroke-width="2.35"/>
<line x1="304.61" y1="242.96" x2="313.38" y2="271.65" stroke="#1010a8" stroke-width="2.35"/>
<line x1="303.00" y1="243.20" x2="303.00" y2="265.50" stroke="#1010a8" stroke-width="2.35"/>
<line x1="301.39" y1="242.96" x2="294.23" y2="266.39" stroke="#1010a8" stroke-width="2.35"/>
<line x1="299.85" y1="242.21" x2="289.81" y2="256.54" stroke="#1010a8" stroke-width="2.35"/>
<line x1="298.55" y1="240.93" x2="283.83" y2="251.63" stroke="#1010a8" stroke-width="2.35"/>
<line x1="297.74" y1="239.31" x2="289.42" y2="241.85" stroke="#1010a8" stroke-width="2.35"/>
<circle cx="303.0" cy="237.7" r="5.6" fill="#fff" stroke="#1010a8" stroke-width="1.0"/>
<line x1="304.47" y1="243.72" x2="314.04" y2="282.97" stroke="#444" stroke-width="0.75"/>
<path d="M303.00 285.70 L303.94 285.69 L304.88 285.66 L305.82 285.60 L306.76 285.53 L307.70 285.43 L308.64 285.31 L309.57 285.17 L310.49 285.01 L311.42 284.82 L312.33 284.62 L313.24 284.39 L314.15 284.14 L315.05 283.87 L315.94 283.57 L316.82 283.26 L317.69 282.91 L318.55 282.55 L319.40 282.16 L320.24 281.75 L321.06 281.30 L321.86 280.83 L322.64 280.31 L323.39 279.73 L323.97 278.86 L323.97 278.86 L323.16 279.27 L322.34 279.66 L321.51 280.03 L320.68 280.38 L319.84 280.72 L318.99 281.04 L318.14 281.35 L317.28 281.64 L316.41 281.91 L315.54 282.17 L314.67 282.40 L313.79 282.62 L312.90 282.83 L312.01 283.01 L311.12 283.18 L310.23 283.33 L309.33 283.46 L308.43 283.58 L307.53 283.68 L306.62 283.76 L305.72 283.82 L304.81 283.86 L303.91 283.89 L303.00 283.90Z" fill="none" stroke="#444" stroke-width="0.6"/>
</svg>
</body></html>
